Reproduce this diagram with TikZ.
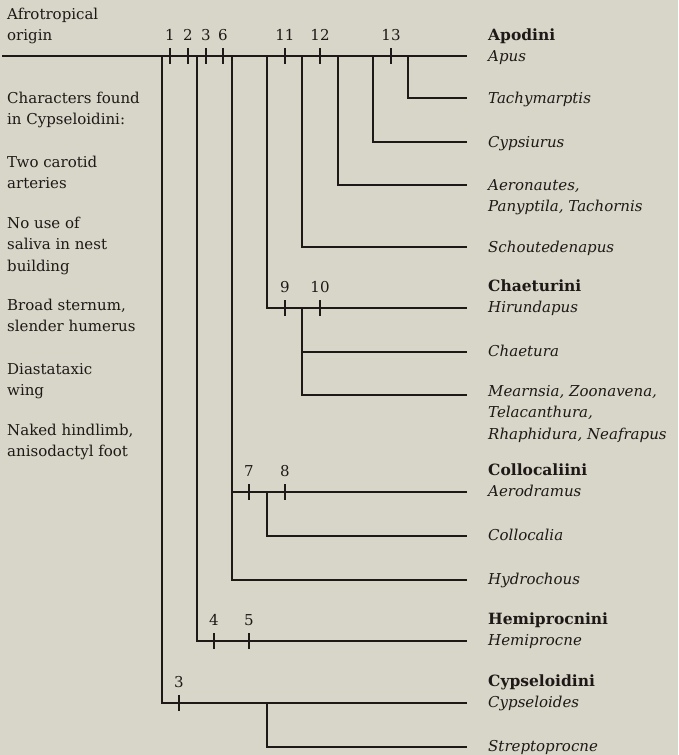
\documentclass[tikz,border=0pt]{standalone}
\usepackage{fontspec}
\setmainfont{DejaVu Serif}
\usetikzlibrary{positioning}

\definecolor{paper}{RGB}{216,213,201}
\definecolor{ink}{RGB}{30,25,23}

\begin{document}
\begin{tikzpicture}[x=1pt, y=-1pt,
    branch/.style={draw=ink, line width=2.6pt},
    tick/.style={draw=ink, line width=1.6pt},
    taxon/.style={anchor=base west, inner sep=0pt, text=ink, align=left, font=\fontsize{15}{21.5}\selectfont\itshape},
    tribe/.style={anchor=base west, inner sep=0pt, text=ink, font=\fontsize{15.5}{21.5}\selectfont\bfseries},
    note/.style={anchor=base west, inner sep=0pt, text=ink, align=left, font=\fontsize{15}{21.5}\selectfont},
    ticklabel/.style={anchor=base, inner sep=0pt, text=ink, font=\fontsize{15}{21.5}\selectfont}
]

    % Paper
    \fill[paper] (0,0) rectangle (678,755);
    \useasboundingbox (0,0) rectangle (678,755);

    % Tips of the terminal branches
    \foreach \name/\y in {apus/56, tachy/98, cypsi/142, aero/185, schout/247, hirund/308, chaet/352, mearn/395, aerod/492, colloc/536, hydro/580, hemi/641, cypse/703, strepto/747} {
        \coordinate (\name) at (467,\y);
    }

    % Branch points on the stem
    \coordinate (root) at (2,56);
    \foreach \name/\x in {b1/162, b2/197, b3/232, b4/267, b5/302, b6/338, b7/373, b8/408} {
        \coordinate (\name) at (\x,56);
    }

    % Stem and side branches
    \draw[branch] (root) -- (apus);
    \draw[branch] (b1) |- (cypse);
    \draw[branch] (b2) |- (hemi);
    \draw[branch] (b3) |- (hydro);
    \draw[branch] (b4) |- (hirund);
    \draw[branch] (b5) |- (schout);
    \draw[branch] (b6) |- (aero);
    \draw[branch] (b7) |- (cypsi);
    \draw[branch] (b8) |- (tachy);

    % Chaeturini
    \draw[branch] (b5 |- hirund) |- (mearn);
    \draw[branch] (b5 |- chaet) -- (chaet);

    % Collocaliini
    \draw[branch] (b3 |- aerod) -- (aerod);
    \draw[branch] (b4 |- aerod) |- (colloc);

    % Cypseloidini
    \draw[branch] (b4 |- cypse) |- (strepto);

    % Character ticks
    \foreach \x/\y/\lab in {170/56/1, 188/56/2, 206/56/3, 223/56/6, 285/56/11, 320/56/12, 391/56/13,
                            285/308/9, 320/308/10, 249/492/7, 285/492/8, 214/641/4, 249/641/5, 179/703/3} {
        \draw[tick] (\x,\y-8) -- (\x,\y+8);
        \node[ticklabel] (tk\x-\y) at (\x,\y-16) {\lab};
    }

    % Taxa
    \node[tribe] (apodini) at (488,40) {Apodini};
    \node[taxon] (apusL) at (488,61) {Apus};
    \node[taxon] (tachyL) at (488,103) {Tachymarptis};
    \node[taxon] (cypsiL) at (488,147) {Cypsiurus};
    \node[taxon] (aeroL) at (488,211.5) {Aeronautes,\\Panyptila, Tachornis};
    \node[taxon] (schoutL) at (488,252) {Schoutedenapus};
    \node[tribe] (chaeturini) at (488,291) {Chaeturini};
    \node[taxon] (hirundL) at (488,312) {Hirundapus};
    \node[taxon] (chaetL) at (488,356) {Chaetura};
    \node[taxon] (mearnL) at (488,439) {Mearnsia, Zoonavena,\\Telacanthura,\\Rhaphidura, Neafrapus};
    \node[tribe] (collocaliini) at (488,475) {Collocaliini};
    \node[taxon] (aerodL) at (488,496) {Aerodramus};
    \node[taxon] (collocL) at (488,540) {Collocalia};
    \node[taxon] (hydroL) at (488,584) {Hydrochous};
    \node[tribe] (hemiprocnini) at (488,624) {Hemiprocnini};
    \node[taxon] (hemiL) at (488,645) {Hemiprocne};
    \node[tribe] (cypseloidini) at (488,686) {Cypseloidini};
    \node[taxon] (cypseL) at (488,707) {Cypseloides};
    \node[taxon] (streptoL) at (488,751) {Streptoprocne};

    % Notes on the left
    \node[note] (origin) at (7,40.5) {Afrotropical\\origin};
    \node[note] (found) at (7,124.5) {Characters found\\in Cypseloidini:};
    \node[note] (carotid) at (7,188.5) {Two carotid\\arteries};
    \node[note] (saliva) at (7,271) {No use of\\saliva in nest\\building};
    \node[note] (sternum) at (7,331.5) {Broad sternum,\\slender humerus};
    \node[note] (wing) at (7,395.5) {Diastataxic\\wing};
    \node[note] (foot) at (7,456.5) {Naked hindlimb,\\anisodactyl foot};

\end{tikzpicture}
\end{document}
